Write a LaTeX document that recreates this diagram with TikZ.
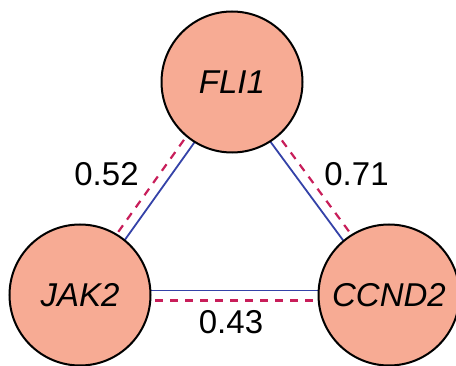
\documentclass[tikz,border=0pt]{standalone}
\usepackage{fontspec}
\setmainfont{Liberation Sans}
\usetikzlibrary{calc,backgrounds}

\definecolor{genefill}{RGB}{247,171,148}
\definecolor{posline}{RGB}{52,66,168}
\definecolor{negline}{RGB}{200,30,90}

\tikzset{
  gene/.style={circle, draw=black, line width=2pt, fill=genefill,
    minimum size=141pt, inner sep=0pt,
    font=\fontsize{33}{39}\selectfont\itshape},
  solidlink/.style={draw=posline, line width=1.8pt},
  dashlink/.style={draw=negline, line width=2.2pt, dash pattern=on 8pt off 7pt},
  weight/.style={font=\fontsize{33}{39}\selectfont, inner sep=0pt}
}

\begin{document}
\begin{tikzpicture}[x=1pt,y=1pt]
  \useasboundingbox (0,0) rectangle (456,365);

  % gene nodes
  \node[gene] (fli) at (232,283) {FLI1};
  \node[gene] (jak) at (80,70) {JAK2};
  \node[gene] (ccn) at (389,70) {CCND2};

  % paired links, drawn under the circles
  \begin{pgfonlayer}{background}
    \draw[solidlink] ($(jak)!4.5pt!90:(ccn)$) -- ($(ccn)!4.5pt!-90:(jak)$);
    \draw[dashlink]  ($(jak)!5.5pt!-90:(ccn)$) -- ($(ccn)!5.5pt!90:(jak)$);
    \draw[solidlink] ($(ccn)!4.5pt!90:(fli)$) -- ($(fli)!4.5pt!-90:(ccn)$);
    \draw[dashlink]  ($(ccn)!5.5pt!-90:(fli)$) -- ($(fli)!5.5pt!90:(ccn)$);
    \draw[solidlink] ($(fli)!4.5pt!90:(jak)$) -- ($(jak)!4.5pt!-90:(fli)$);
    \draw[dashlink]  ($(fli)!5.5pt!-90:(jak)$) -- ($(jak)!5.5pt!90:(fli)$);
  \end{pgfonlayer}

  % edge weights
  \node[weight] (w1) at (106.5,190.5) {0.52};
  \node[weight] (w2) at (356.5,190.5) {0.71};
  \node[weight] (w3) at (231,43) {0.43};
\end{tikzpicture}
\end{document}
